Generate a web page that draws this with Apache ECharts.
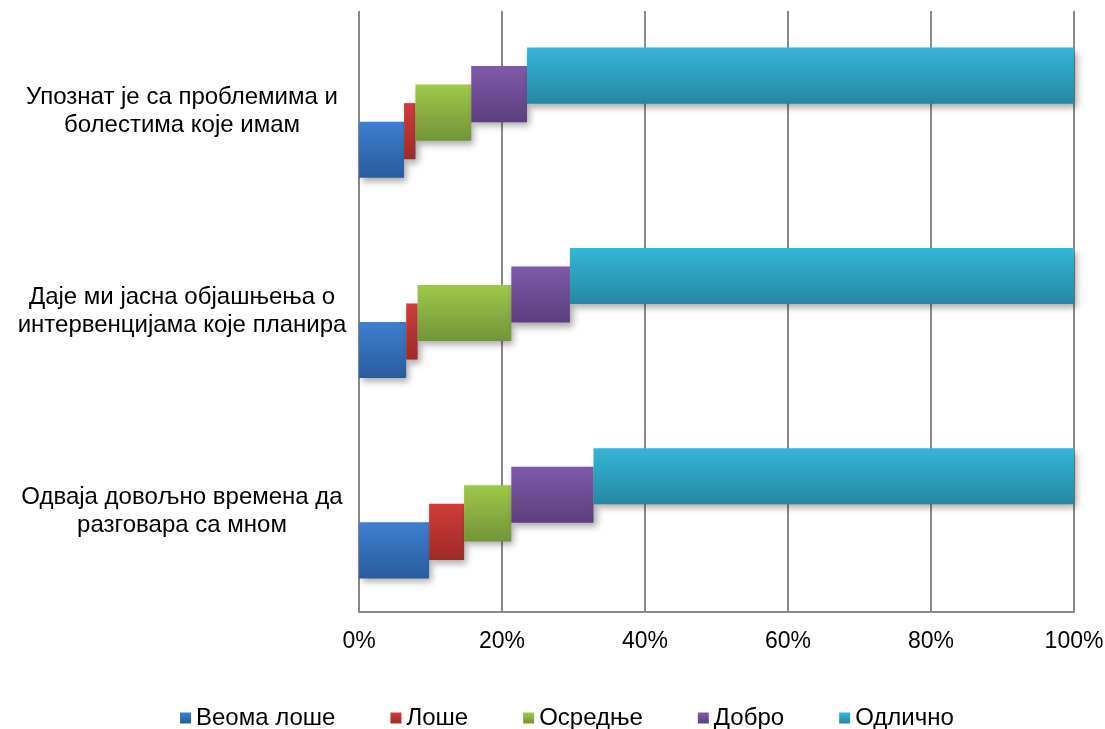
<!DOCTYPE html>
<html>
<head>
<meta charset="utf-8">
<script src="https://cdn.jsdelivr.net/npm/echarts@6/dist/echarts.min.js"></script>
<style>
  html, body { margin: 0; padding: 0; background: #ffffff; }
  #chart { width: 1105px; height: 729px; }
</style>
</head>
<body>
<div id="chart"></div>
<script>
// Survey statements (rows) and answer shares in percent.
const categories = [
  'Упознат је са проблемима и\nболестима које имам',
  'Даје ми јасна објашњења о\nинтервенцијама које планира',
  'Одваја довољно времена да\nразговара са мном'
];
const seriesNames = ['Веома лоше', 'Лоше', 'Осредње', 'Добро', 'Одлично'];
const veomaLose = [6.3, 6.6, 9.8];
const lose      = [1.6, 1.6, 4.9];
const osrednje  = [7.8, 13.1, 6.6];
const dobro     = [7.8, 8.2, 11.5];
const odlicno   = [76.5, 70.5, 67.2];
const axisMin = 0;
const axisMax = 100;
const tickStep = 20;

const seriesValues = [veomaLose, lose, osrednje, dobro, odlicno];
// top / bottom colours of each segment's vertical gradient
const palette = [
  ['#3d80d0', '#2a5b9c'],
  ['#d03d39', '#9e2a27'],
  ['#9fc84a', '#739439'],
  ['#7f59aa', '#5d3f7e'],
  ['#35b5d8', '#2687a2']
];
const FONT = '"Liberation Sans", Arial, sans-serif';

function gradient(i) {
  return new echarts.graphic.LinearGradient(0, 0, 0, 1, [
    { offset: 0, color: palette[i][0] },
    { offset: 1, color: palette[i][1] }
  ]);
}

// Each segment is stacked along x; successive segments step upward
// inside the category band, giving the staircase look.
const STEP = 0.0924;   // vertical step per series, as a share of the band
const BAR = 0.28;      // bar thickness, as a share of the band
const SHIFT = 0.0075;

function makeRender(i) {
  return function (params, api) {
    const cat = api.value(0);
    const a = api.coord([api.value(1), cat]);
    const b = api.coord([api.value(2), cat]);
    const band = api.size([0, 1])[1];
    const h = band * BAR;
    const cy = a[1] + ((2 - i) * STEP + SHIFT) * band;
    return {
      type: 'rect',
      shape: { x: a[0], y: cy - h / 2, width: b[0] - a[0], height: h },
      style: {
        fill: gradient(i),
        shadowBlur: 7,
        shadowOffsetX: 3,
        shadowOffsetY: 4,
        shadowColor: 'rgba(0,0,0,0.35)'
      }
    };
  };
}

const series = seriesNames.map(function (name, i) {
  const data = categories.map(function (c, ci) {
    let start = 0;
    for (let k = 0; k < i; k++) start += seriesValues[k][ci];
    return [ci, start, start + seriesValues[i][ci], seriesValues[i][ci]];
  });
  return {
    type: 'custom',
    name: name,
    renderItem: makeRender(i),
    encode: { x: [1, 2], y: 0 },
    itemStyle: { color: gradient(i) },
    data: data,
    z: 2 + i
  };
});

const chart = echarts.init(document.getElementById('chart'), null, { renderer: 'canvas' });
chart.setOption({
  animation: false,
  backgroundColor: '#ffffff',
  grid: { left: 359, right: 31, top: 11, bottom: 117, outerBoundsMode: 'none' },
  legend: {
    data: seriesNames,
    left: 180,
    top: 706,
    padding: 0,
    icon: 'rect',
    itemWidth: 11,
    itemHeight: 11,
    itemGap: 55,
    textStyle: { fontSize: 24, lineHeight: 24, color: '#000', fontFamily: FONT }
  },
  xAxis: {
    type: 'value',
    min: axisMin,
    max: axisMax,
    interval: tickStep,
    axisLine: { show: true, lineStyle: { color: '#8a8a8a', width: 2 } },
    axisTick: { show: false },
    splitLine: { show: true, lineStyle: { color: '#8a8a8a', width: 2 } },
    axisLabel: {
      formatter: '{value}%',
      fontSize: 23,
      color: '#000',
      margin: 18,
      fontFamily: FONT
    }
  },
  yAxis: {
    type: 'category',
    inverse: true,
    data: categories,
    axisLine: { show: false },
    axisTick: { show: false },
    splitLine: { show: false },
    axisLabel: {
      align: 'center',
      margin: 177,
      fontSize: 24,
      lineHeight: 28,
      padding: [18, 0, 0, 0],
      color: '#000',
      fontFamily: FONT
    }
  },
  series: series
});
</script>
</body>
</html>
